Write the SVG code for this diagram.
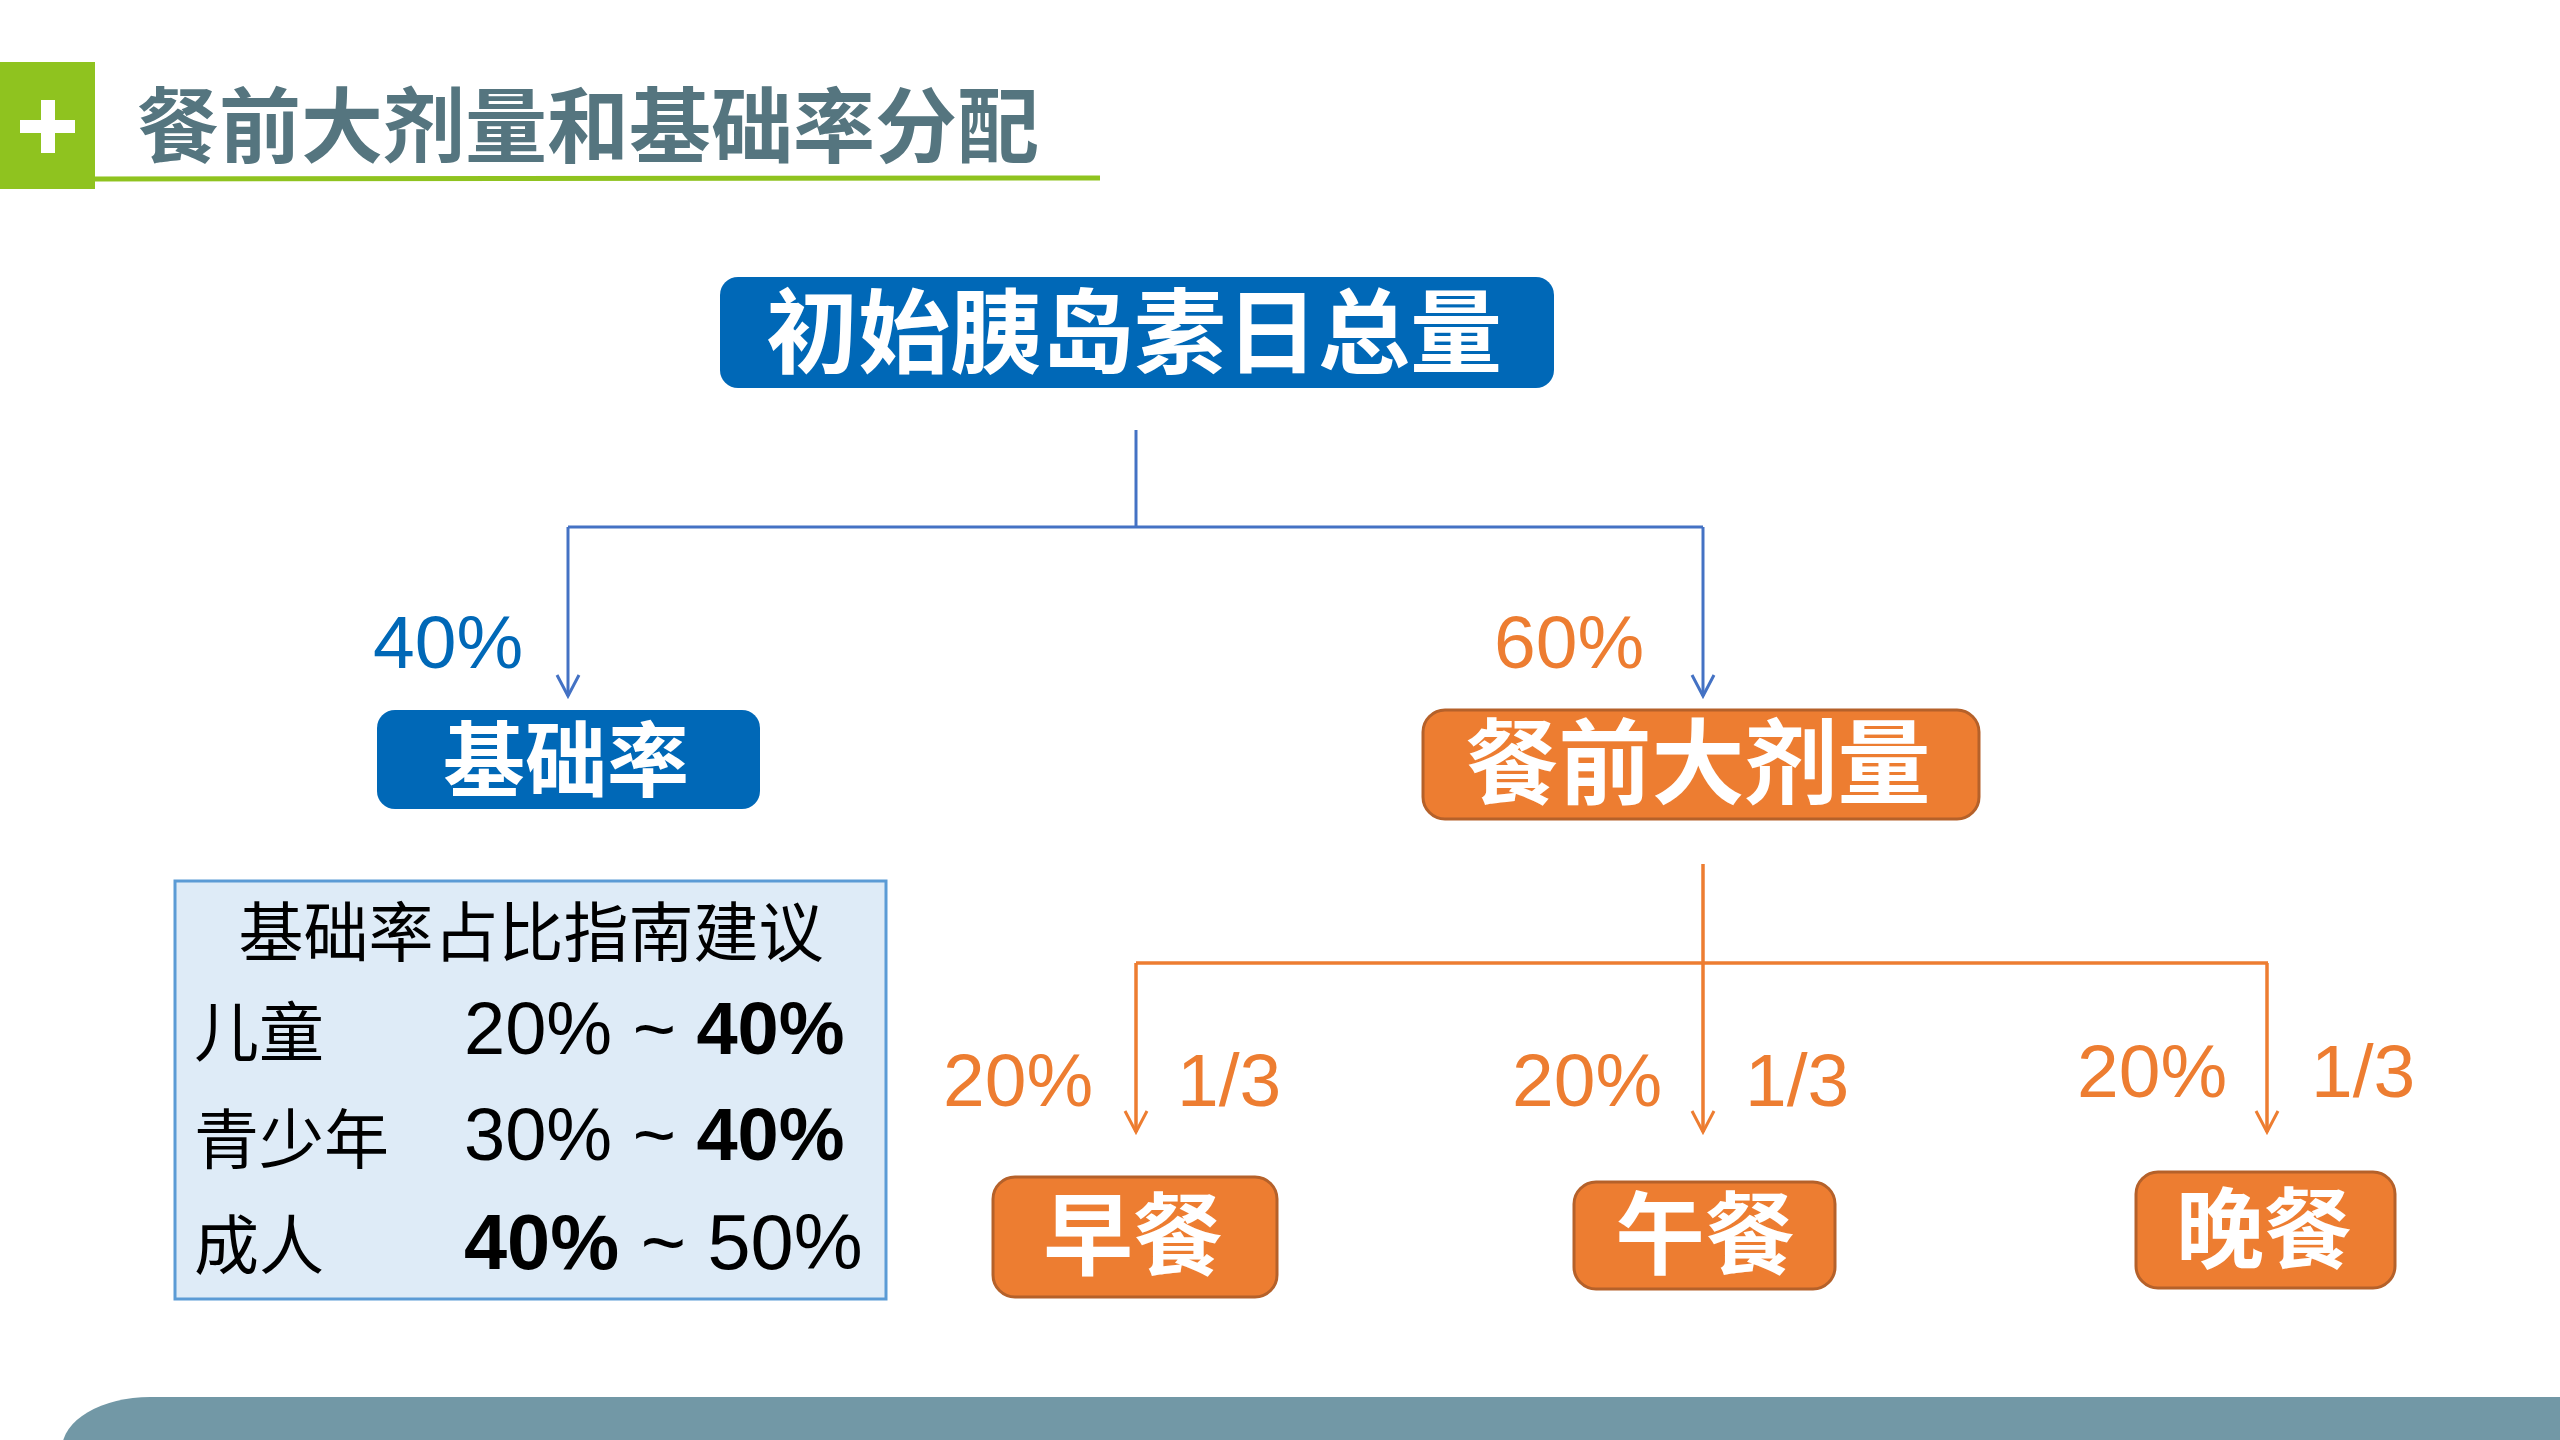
<svg xmlns="http://www.w3.org/2000/svg" width="2560" height="1440" viewBox="0 0 2560 1440">
<style>
.cjkb{font-family:"Noto Sans CJK SC","Noto Sans CJK TC",sans-serif;font-weight:700;}
.cjk{font-family:"Noto Sans CJK SC","Noto Sans CJK TC",sans-serif;font-weight:400;}
.num{font-family:"Liberation Sans",Arial,sans-serif;}
.wt{fill:#ffffff;text-anchor:middle;}
.blue{fill:#0068b7;}
.orange{fill:#ed7d31;stroke:#b5612a;stroke-width:3;}
.ol{fill:#ed7d31;font-size:75px;}
.bl{fill:#0068b7;font-size:75px;}
.cb{stroke:#4472c4;stroke-width:3;fill:none;}
.co{stroke:#ed7d31;stroke-width:3.5;fill:none;}
.tx{fill:#000;}
</style>
<defs>
<marker id="ab" markerUnits="userSpaceOnUse" markerWidth="26" markerHeight="26" viewBox="0 0 26 26" refX="23" refY="13" orient="auto">
<path d="M2,2 L23,13 L2,24" fill="none" stroke="#4472c4" stroke-width="3"/>
</marker>
<marker id="ao" markerUnits="userSpaceOnUse" markerWidth="26" markerHeight="26" viewBox="0 0 26 26" refX="23" refY="13" orient="auto">
<path d="M2,2 L23,13 L2,24" fill="none" stroke="#ed7d31" stroke-width="3"/>
</marker>
</defs>
<rect width="2560" height="1440" fill="#ffffff"/>

<g id="header">
<rect x="0" y="62" width="95" height="127" fill="#8fc31f"/>
<rect x="20" y="120" width="55" height="13" fill="#ffffff"/>
<rect x="41" y="100" width="14" height="53" fill="#ffffff"/>
<line x1="95" y1="179" x2="1100" y2="178" stroke="#8fc31f" stroke-width="5"/>
<text x="137" y="156" class="cjkb" font-size="82" fill="#55757f">餐前大剂量和基础率分配</text>
</g>

<g id="connectors">
<path class="cb" d="M1136,430 V527"/>
<path class="cb" d="M568,527 H1703"/>
<path class="cb" d="M568,527 V696" marker-end="url(#ab)"/>
<path class="cb" d="M1703,527 V696" marker-end="url(#ab)"/>
<path class="co" d="M1703,864 V1132" marker-end="url(#ao)"/>
<path class="co" d="M1136,963 H2268"/>
<path class="co" d="M1136,963 V1132" marker-end="url(#ao)"/>
<path class="co" d="M2267,963 V1132" marker-end="url(#ao)"/>
</g>

<g id="labels">
<text x="373" y="668" class="num bl">40%</text>
<text x="1494" y="668" class="num ol">60%</text>
<text x="943" y="1106" class="num ol">20%</text>
<text x="1177" y="1106" class="num ol">1/3</text>
<text x="1512" y="1106" class="num ol">20%</text>
<text x="1745" y="1106" class="num ol">1/3</text>
<text x="2077" y="1097" class="num ol">20%</text>
<text x="2311" y="1097" class="num ol">1/3</text>
</g>

<g id="node-total">
<rect x="720" y="277" width="834" height="111" rx="18" class="blue"/>
<text x="1134" y="366" class="cjkb wt" font-size="92">初始胰岛素日总量</text>
</g>

<g id="node-basal">
<rect x="377" y="710" width="383" height="99" rx="18" class="blue"/>
<text x="566" y="790" class="cjkb wt" font-size="82">基础率</text>
</g>

<g id="node-bolus">
<rect x="1423" y="710" width="556" height="109" rx="22" class="orange"/>
<text x="1698" y="797" class="cjkb wt" font-size="93">餐前大剂量</text>
</g>

<g id="node-breakfast">
<rect x="993" y="1177" width="284" height="120" rx="22" class="orange"/>
<text x="1133" y="1268" class="cjkb wt" font-size="90">早餐</text>
</g>

<g id="node-lunch">
<rect x="1574" y="1182" width="261" height="107" rx="22" class="orange"/>
<text x="1705" y="1267" class="cjkb wt" font-size="90">午餐</text>
</g>

<g id="node-dinner">
<rect x="2136" y="1172" width="259" height="116" rx="22" class="orange"/>
<text x="2264" y="1261" class="cjkb wt" font-size="88">晚餐</text>
</g>

<g id="node-table">
<rect x="175" y="881" width="711" height="418" fill="#deebf7" stroke="#5b9bd5" stroke-width="3"/>
<text x="531" y="956" class="cjk tx" font-size="65" text-anchor="middle">基础率占比指南建议</text>
<text x="194" y="1056" class="cjk tx" font-size="65">儿童</text>
<text x="194" y="1163" class="cjk tx" font-size="65">青少年</text>
<text x="194" y="1269" class="cjk tx" font-size="65">成人</text>
<text x="464" y="1054" class="num tx" font-size="74">20% ~ <tspan font-weight="700">40%</tspan></text>
<text x="464" y="1160" class="num tx" font-size="74">30% ~ <tspan font-weight="700">40%</tspan></text>
<text x="464" y="1269" class="num tx" font-size="77.5"><tspan font-weight="700">40%</tspan> ~ 50%</text>
</g>

<g id="footer">
<rect x="62" y="1397" width="2600" height="200" rx="88" ry="52" fill="#7298a6"/>
</g>
</svg>
